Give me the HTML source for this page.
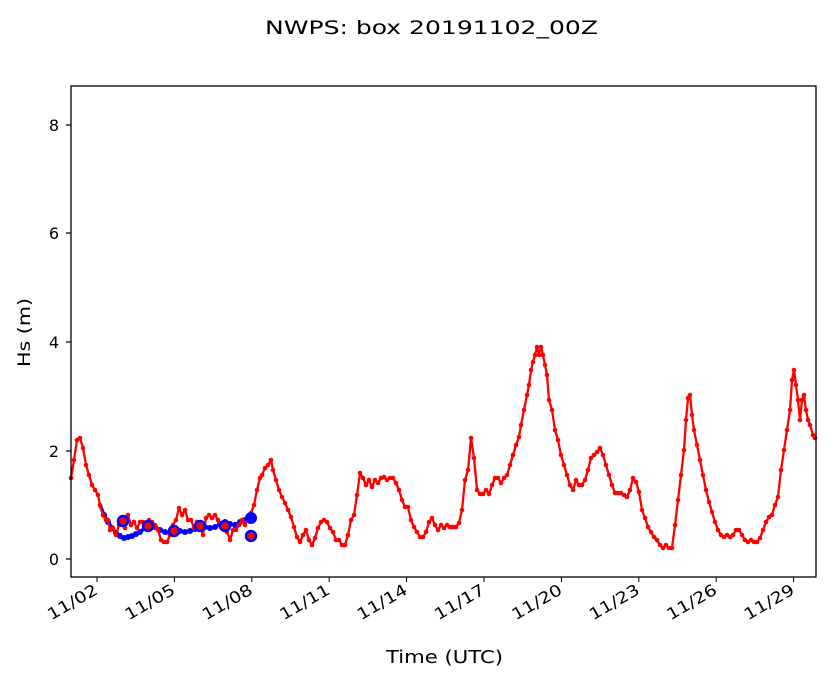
<!DOCTYPE html>
<html><head><meta charset="utf-8"><style>
body{margin:0;background:#fff;}
svg text{font-family:"DejaVu Sans","Liberation Sans",sans-serif;fill:#000;}
</style></head><body>
<svg width="833" height="681" xmlns="http://www.w3.org/2000/svg">
<defs>
<marker id="rd" markerWidth="6" markerHeight="6" refX="3" refY="3" markerUnits="userSpaceOnUse"><circle cx="3" cy="3" r="2.3" fill="red"/></marker>
<marker id="bd" markerWidth="8" markerHeight="8" refX="4" refY="4" markerUnits="userSpaceOnUse"><circle cx="4" cy="4" r="3" fill="blue"/></marker>
</defs>
<text x="265" y="34" font-size="19" textLength="333" lengthAdjust="spacingAndGlyphs">NWPS: box 20191102_00Z</text>
<polyline fill="none" stroke="blue" stroke-width="3.5" stroke-linejoin="round" marker-mid="url(#bd)" points="100,505 104,515 108,522 112,528 116,533 120,536 124,538 128,537 132,536 136,534 140,532 145,528 150,525 155,527 160,530 165,532 170,533 175,532 180,531 185,532 190,531 195,529 200,526 205,527 210,528 215,527 220,524 225,522 230,524 235,525 240,522 245,520 251,518"/>
<polyline fill="none" stroke="red" stroke-width="2.3" stroke-linejoin="round" marker-start="url(#rd)" marker-mid="url(#rd)" marker-end="url(#rd)" points="71,478 74,460 77,440 80,438 83,448 86,465 89,475 92,485 95,490 98,495 100,505 103,515 106,520 108,520 110,530 113,528 116,535 119,525 122,522 125,528 128,515 131,525 134,522 137,528 140,522 143,522 146,525 149,520 152,522 155,525 158,530 161,540 164,542 167,542 170,535 173,525 176,520 179,508 182,515 185,510 188,520 191,520 194,528 197,522 200,525 203,535 206,518 209,515 212,518 215,515 218,520 221,525 224,527 227,532 230,540 233,530 236,530 239,525 242,520 245,525 248,518 251,513 254,505 257,490 260,478 262,475 265,468 268,465 271,460 273,470 276,480 279,490 282,497 285,503 288,510 291,517 294,527 297,537 300,542 303,535 306,530 309,540 312,545 315,538 318,528 321,522 324,520 327,522 330,528 333,532 336,540 339,540 342,545 345,545 348,535 351,520 354,515 357,495 360,473 363,478 366,485 369,480 372,487 375,480 378,483 381,478 384,477 387,480 390,478 393,478 396,483 399,490 402,500 405,507 408,507 411,520 414,527 417,532 420,537 423,537 426,532 429,522 432,518 435,525 438,530 441,525 444,528 447,525 450,527 453,527 456,527 459,523 462,510 465,480 468,470 471,438 474,458 477,490 480,494 483,494 486,490 489,494 492,485 495,478 498,478 501,483 504,478 507,475 510,465 513,455 516,445 519,437 521,425 524,410 527,395 529,385 531,370 533,362 535,355 537,347 539,355 541,347 543,355 545,365 547,375 549,400 552,410 555,430 558,440 561,455 564,465 567,475 570,485 573,490 576,480 579,485 582,485 585,480 588,470 591,458 594,455 597,452 600,448 603,455 606,465 609,475 612,485 615,493 618,493 621,493 624,495 627,497 630,490 633,478 636,482 639,492 642,510 645,518 648,527 651,532 654,537 657,540 660,545 663,548 666,545 669,548 672,548 675,525 678,500 681,475 684,450 686,420 688,398 690,395 692,415 694,430 697,445 700,460 703,475 706,490 709,502 712,512 715,522 718,530 721,535 724,537 727,535 730,537 733,535 736,530 739,530 742,535 745,540 748,542 751,540 754,542 757,542 760,538 763,530 766,522 769,517 772,515 775,505 778,497 781,470 784,450 787,430 790,410 792,380 794,370 796,385 798,400 800,420 802,400 804,395 806,410 808,420 810,425 813,435 815,438"/>
<g stroke="blue" stroke-width="2.5" fill="red">
<circle cx="123" cy="521" r="5"/><circle cx="148" cy="526" r="5"/><circle cx="174" cy="531" r="5"/><circle cx="200" cy="526" r="5"/><circle cx="225" cy="526" r="5"/><circle cx="251" cy="536" r="5"/>
</g>
<circle cx="251" cy="518" r="6" fill="blue"/>
<rect x="71" y="86" width="745" height="491" fill="none" stroke="#000" stroke-width="1.3"/>
<g stroke="#000" stroke-width="1.2">
<line x1="71" y1="559" x2="66" y2="559"/><line x1="71" y1="451" x2="66" y2="451"/><line x1="71" y1="342" x2="66" y2="342"/><line x1="71" y1="233" x2="66" y2="233"/><line x1="71" y1="125" x2="66" y2="125"/>
</g>
<g font-size="16" text-anchor="end">
<text x="59" y="565">0</text><text x="59" y="457">2</text><text x="59" y="348">4</text><text x="59" y="239">6</text><text x="59" y="131">8</text>
</g>
<text transform="translate(30,298) rotate(-90)" font-size="17" text-anchor="end" textLength="69" lengthAdjust="spacingAndGlyphs">Hs (m)</text>
<g font-size="16" text-anchor="end">
<line x1="97" y1="577" x2="97" y2="582" stroke="#000"/><text transform="translate(99,593) rotate(-30)" textLength="55" lengthAdjust="spacingAndGlyphs">11/02</text>
<line x1="174.4" y1="577" x2="174.4" y2="582" stroke="#000"/><text transform="translate(176.4,593) rotate(-30)" textLength="55" lengthAdjust="spacingAndGlyphs">11/05</text>
<line x1="251.8" y1="577" x2="251.8" y2="582" stroke="#000"/><text transform="translate(253.8,593) rotate(-30)" textLength="55" lengthAdjust="spacingAndGlyphs">11/08</text>
<line x1="329.2" y1="577" x2="329.2" y2="582" stroke="#000"/><text transform="translate(331.2,593) rotate(-30)" textLength="55" lengthAdjust="spacingAndGlyphs">11/11</text>
<line x1="406.6" y1="577" x2="406.6" y2="582" stroke="#000"/><text transform="translate(408.6,593) rotate(-30)" textLength="55" lengthAdjust="spacingAndGlyphs">11/14</text>
<line x1="484" y1="577" x2="484" y2="582" stroke="#000"/><text transform="translate(486,593) rotate(-30)" textLength="55" lengthAdjust="spacingAndGlyphs">11/17</text>
<line x1="561.4" y1="577" x2="561.4" y2="582" stroke="#000"/><text transform="translate(563.4,593) rotate(-30)" textLength="55" lengthAdjust="spacingAndGlyphs">11/20</text>
<line x1="638.8" y1="577" x2="638.8" y2="582" stroke="#000"/><text transform="translate(640.8,593) rotate(-30)" textLength="55" lengthAdjust="spacingAndGlyphs">11/23</text>
<line x1="716.2" y1="577" x2="716.2" y2="582" stroke="#000"/><text transform="translate(718.2,593) rotate(-30)" textLength="55" lengthAdjust="spacingAndGlyphs">11/26</text>
<line x1="793.6" y1="577" x2="793.6" y2="582" stroke="#000"/><text transform="translate(795.6,593) rotate(-30)" textLength="55" lengthAdjust="spacingAndGlyphs">11/29</text>
</g>
<text x="386" y="663" font-size="18" textLength="117" lengthAdjust="spacingAndGlyphs">Time (UTC)</text>
</svg>
</body></html>
